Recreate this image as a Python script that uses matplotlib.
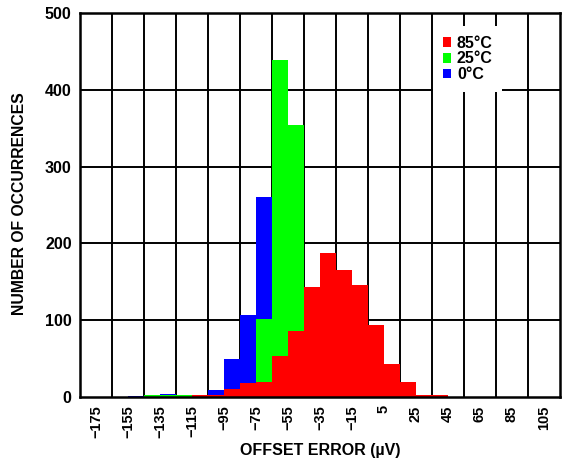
import numpy as np
import matplotlib
matplotlib.use("Agg")
import matplotlib.pyplot as plt
from matplotlib.patches import Patch

plt.rcParams['font.family'] = ['Liberation Sans', 'DejaVu Sans']
plt.rcParams['font.weight'] = 'bold'

# Histogram bins: 10 µV wide, left edges from -185 µV
bin_width = 10
bin_left = np.arange(-185, 115, bin_width)

# Counts per bin (30 bins)
counts_0c = [0, 0, 0, 1, 0, 4, 0, 0, 9, 50, 107, 261, 380, 150, 30,
             0, 0, 0, 0, 0, 0, 0, 0, 0, 0, 0, 0, 0, 0, 0]
counts_25c = [0, 0, 0, 0, 2, 2, 2, 0, 0, 0, 0, 101, 439, 354, 90,
              10, 0, 0, 0, 0, 0, 0, 0, 0, 0, 0, 0, 0, 0, 0]
counts_85c = [0, 0, 0, 0, 0, 0, 0, 2, 2, 10, 18, 20, 54, 86, 143,
              187, 165, 146, 94, 43, 20, 3, 3, 0, 0, 0, 0, 0, 0, 0]

series = [("0°C", counts_0c, "#0000ff"),
          ("25°C", counts_25c, "#00ff00"),
          ("85°C", counts_85c, "#ff0000")]

tick_values = list(range(-175, 106, 20))
tick_labels = [str(v).replace("-", "\u2212") for v in tick_values]

fig = plt.figure(figsize=(5.72, 4.61), dpi=100)
ax = fig.add_axes([80 / 572, 1 - 397 / 461, 480 / 572, 384 / 461])

for name, vals, col in series:
    ax.bar(bin_left, vals, width=bin_width, align='edge', color=col,
           linewidth=0, zorder=2)

ax.set_xlim(-185, 115)
ax.set_ylim(0, 500)

# Grid lines at column boundaries, behind the bars
for gx in range(-165, 115, 20):
    ax.axvline(gx, color='black', lw=1.4, zorder=1)
for gy in range(100, 500, 100):
    ax.axhline(gy, color='black', lw=1.4, zorder=1)

ax.set_xticks(tick_values)
ax.set_xticklabels(tick_labels, rotation=90, fontsize=10.5, fontweight='bold')
ax.set_yticks(range(0, 501, 100))
ax.set_yticklabels([str(v) for v in range(0, 501, 100)], fontsize=11.5,
                   fontweight='bold')
ax.tick_params(length=0, pad=6)

for sp in ax.spines.values():
    sp.set_linewidth(1.8)
    sp.set_zorder(4)

ax.set_xlabel("OFFSET ERROR (µV)", fontsize=11.5, fontweight='bold')
ax.set_ylabel("NUMBER OF OCCURRENCES", fontsize=11.3, fontweight='bold')
ax.xaxis.set_label_coords(0.5, (397 - 443) / 384)
ax.yaxis.set_label_coords((27 - 80) / 480, (397 - 204) / 384)

handles = [Patch(facecolor=c, edgecolor='none') for _, _, c in series[::-1]]
labels = [n for n, _, _ in series[::-1]]
leg = ax.legend(handles, labels, loc='upper left',
                bbox_to_anchor=((433 - 80) / 480, (397 - 26) / 384),
                frameon=True, fancybox=False, framealpha=1,
                edgecolor='none', facecolor='white',
                prop={'weight': 'bold', 'size': 11.5},
                handlelength=0.55, handleheight=0.55, handletextpad=0.35,
                labelspacing=0.05, borderpad=0.6, borderaxespad=0)
leg.set_zorder(5)

fig.savefig("out.png", dpi=100)
